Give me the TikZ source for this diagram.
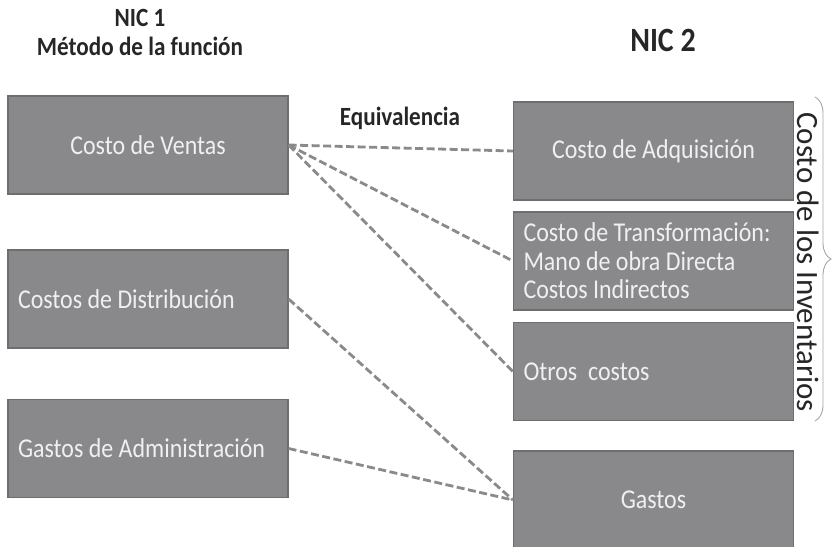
\documentclass[tikz,border=0pt]{standalone}
\usepackage{fontspec}
\setmainfont{Carlito}[FakeStretch=0.88]
\newfontfamily\plainfont{Carlito}
\usepackage{xcolor}
\definecolor{boxgray}{RGB}{137,137,140}
\definecolor{boxedge}{RGB}{110,110,112}
\definecolor{linkgray}{RGB}{138,138,140}
\definecolor{bracegray}{RGB}{165,165,165}
\usetikzlibrary{positioning, decorations.pathreplacing}

\tikzset{
  nicbox/.style={draw=boxedge, fill=boxgray, line width=1.2pt, text=white!94!black,
    minimum width=280pt, minimum height=98pt, inner xsep=10pt,
    font=\fontsize{27.2}{28.5}\selectfont},
  nicleft/.style={nicbox, text width=260pt, align=flush left},
  niccenter/.style={nicbox, text width=260pt, align=flush center},
  heading/.style={font=\fontsize{26.3}{27}\selectfont\bfseries, text=black!85},
  equiv/.style={linkgray, line width=2.8pt, dash pattern=on 8pt off 3.5pt}
}

\begin{document}
\begin{tikzpicture}[x=1pt, y=-1pt]
\useasboundingbox (0,0) rectangle (834,546);

% --- Headings ---
\node[heading] (nic1) at (140,18) {NIC 1};
\node[heading] (metodo) at (140,46) {Método de la función};
\node[heading, font=\fontsize{34}{36}\selectfont\bfseries] (nic2) at (663,40) {NIC 2};
\node[heading] (equivalencia) at (400,118) {Equivalencia};

% --- NIC 1 boxes ---
\node[niccenter] (ventas) at (148,145) {Costo de Ventas};
\node[nicleft] (distribucion) at (148,299) {Costos de Distribución};
\node[nicleft] (administracion) at (148,448.5) {Gastos de Administración};

% --- NIC 2 boxes ---
\node[niccenter] (adquisicion) at (653.5,151) {Costo de Adquisición};
\node[nicleft] (transformacion) at (653.5,261)
     {Costo de Transformación:\\Mano de obra Directa\\Costos Indirectos};
\node[nicleft] (otros) at (653.5,371.5) {Otros\ \ costos};
\node[niccenter] (gastos) at (653.5,500) {Gastos};

% Inventory brace
\coordinate (bracetop) at (815,97);
\coordinate (bracebot) at (815,421);
\draw[bracegray, line width=0.9pt, decorate, decoration={brace, amplitude=16pt}]
     (bracetop) -- (bracebot);
\node[rotate=-90, font=\plainfont\fontsize{31}{34}\selectfont, text=black!85] (inventarios) at (808,262)
     {Costo de los Inventarios};

% Equivalence links
\draw[equiv] (ventas.east) -- (adquisicion.west);
\draw[equiv] (ventas.east) -- (transformacion.west);
\draw[equiv] (ventas.east) -- (otros.west);
\draw[equiv] (distribucion.east) -- (gastos.west);
\draw[equiv] (administracion.east) -- (gastos.west);

\end{tikzpicture}
\end{document}
